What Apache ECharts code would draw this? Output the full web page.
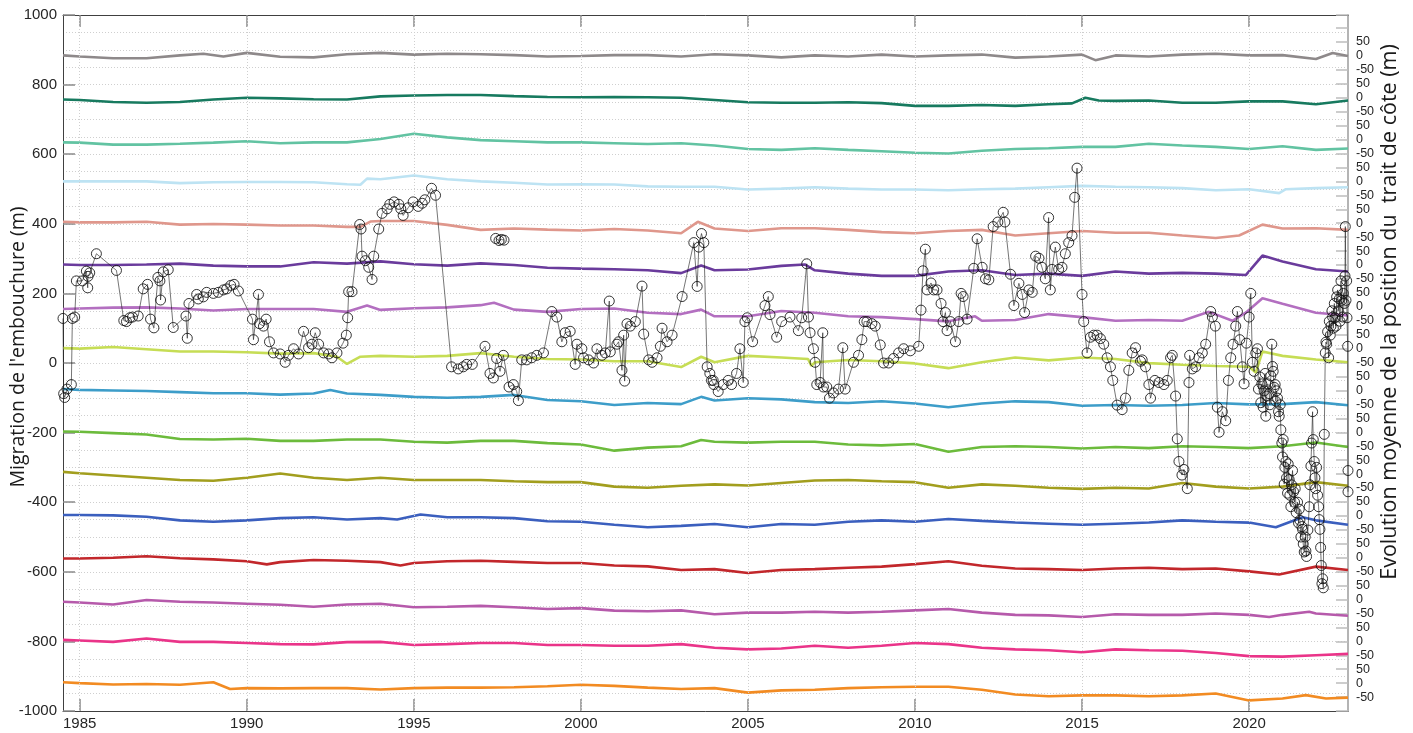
<!DOCTYPE html>
<html>
<head>
<meta charset="utf-8">
<script src="https://cdn.jsdelivr.net/npm/echarts@6/dist/echarts.min.js"></script>
<style>
  html, body { margin: 0; padding: 0; background: #fff; }
  #chart { width: 1413px; height: 733px; }
</style>
</head>
<body>
<div id="chart"></div>
<script>
// ---- x ticks (years) ----
const yearTicks = [1985, 1990, 1995, 2000, 2005, 2010, 2015, 2020];

// ---- shoreline evolution per profile, [year, metres], top to bottom ----
const p01 = [[1984.5,2],[1985,-2],[1986,-8],[1987,-8],[1988,2],[1988.7,8],[1989.3,-2],[1990,11],[1991,-3],[1992,-5],[1993,6],[1994,11],[1995,5],[1996,8],[1997,6],[1998,3],[1999,-2],[2000,0],[2001,3],[2002,3],[2003,-2],[2004,6],[2005,2],[2006,-5],[2007,2],[2008,-2],[2009,5],[2010,-2],[2011,2],[2012,5],[2013,-6],[2014,-2],[2015,5],[2015.4,-15],[2016,2],[2017,-2],[2018,5],[2019,8],[2020,2],[2021,3],[2022,-11],[2022.5,11],[2022.96,0]];
const p02 = [[1984.5,-6],[1985,-8],[1986,-15],[1987,-18],[1988,-15],[1989,-6],[1990,0],[1991,-2],[1992,-5],[1993,-6],[1994,5],[1995,8],[1996,10],[1997,10],[1998,6],[1999,3],[2000,2],[2001,3],[2002,2],[2003,0],[2004,-8],[2005,-16],[2006,-18],[2007,-18],[2008,-16],[2009,-19],[2010,-29],[2011,-29],[2012,-26],[2013,-29],[2014,-23],[2014.7,-20],[2015.1,0],[2015.5,-10],[2016,-11],[2017,-10],[2018,-18],[2019,-18],[2020,-13],[2021,-13],[2022,-23],[2022.96,-10]];
const p03 = [[1984.5,-10],[1985,-11],[1986,-18],[1987,-18],[1988,-15],[1989,-11],[1990,-6],[1991,-13],[1992,-10],[1993,-10],[1994,2],[1995,21],[1996,8],[1997,-2],[1998,-6],[1999,-10],[2000,-10],[2001,-13],[2002,-16],[2003,-13],[2004,-21],[2005,-34],[2006,-37],[2007,-31],[2008,-37],[2009,-42],[2010,-47],[2011,-50],[2012,-40],[2013,-34],[2014,-31],[2015,-26],[2016,-26],[2017,-15],[2018,-21],[2019,-26],[2020,-34],[2021,-24],[2022,-37],[2022.96,-32]];
const p04 = [[1984.5,0],[1985,0],[1986,0],[1987,0],[1988,-6],[1989,-3],[1990,-2],[1991,-2],[1992,-3],[1993,-10],[1993.4,-12],[1993.6,10],[1994,8],[1995,21],[1996,8],[1997,0],[1998,-5],[1999,-11],[2000,-10],[2001,-11],[2002,-18],[2003,-19],[2004,-19],[2005,-29],[2006,-26],[2007,-21],[2008,-26],[2009,-29],[2010,-29],[2011,-32],[2012,-28],[2013,-26],[2014,-21],[2015,-16],[2016,-19],[2017,-21],[2018,-24],[2019,-32],[2020,-28],[2020.9,-42],[2021.1,-28],[2022,-24],[2022.96,-21]];
const p05 = [[1984.5,5],[1985,3],[1986,3],[1987,5],[1988,-5],[1989,-3],[1990,-5],[1991,-8],[1992,-8],[1993,-13],[1993.4,-13],[1993.7,6],[1994,8],[1995,8],[1996,-6],[1997,-24],[1998,-19],[1999,-23],[2000,-26],[2001,-21],[2002,-26],[2003,-36],[2003.5,5],[2004,-19],[2005,-28],[2006,-18],[2007,-18],[2008,-24],[2009,-32],[2010,-36],[2011,-28],[2012,-24],[2013,-44],[2014,-36],[2015,-28],[2016,-34],[2017,-34],[2018,-44],[2019,-53],[2019.7,-44],[2020.4,-5],[2021,-19],[2022,-18],[2022.96,-24]];
const p06 = [[1984.5,2],[1985,0],[1986,0],[1987,2],[1988,5],[1989,-2],[1990,-5],[1991,-5],[1992,10],[1993,5],[1994,13],[1995,3],[1996,-2],[1997,6],[1998,0],[1999,-10],[2000,-13],[2001,-15],[2002,-19],[2003,-29],[2003.6,-2],[2004,-19],[2005,-16],[2006,-3],[2006.7,2],[2007,-19],[2008,-31],[2009,-39],[2010,-39],[2011,-23],[2012,-19],[2013,-36],[2014,-31],[2015,-39],[2016,-23],[2017,-31],[2018,-28],[2019,-31],[2019.9,-36],[2020.4,34],[2021,13],[2022,-15],[2022.96,-23]];
const p07 = [[1984.5,-8],[1985,-6],[1986,-3],[1987,-2],[1988,-6],[1989,-13],[1990,-8],[1991,-8],[1992,-8],[1993,-18],[1993.6,5],[1994,-11],[1995,-5],[1996,-2],[1997,6],[1997.4,15],[1998,-10],[1999,-18],[2000,-8],[2001,-6],[2002,-21],[2003,-26],[2003.6,-10],[2004,-34],[2005,-34],[2006,-15],[2007,-21],[2008,-34],[2009,-37],[2010,-44],[2011,-52],[2011.8,-34],[2012,-50],[2013,-47],[2014,-26],[2015,-37],[2016,-50],[2017,-47],[2018,-50],[2018.8,-18],[2019.5,-50],[2019.9,-21],[2020.4,31],[2021,11],[2022,-21],[2022.96,-31]];
const p08 = [[1984.5,2],[1985,0],[1986,6],[1987,-2],[1988,-10],[1989,-10],[1990,-13],[1991,-18],[1992,-16],[1992.7,-29],[1993,-55],[1993.4,-29],[1994,-26],[1995,-29],[1996,-26],[1997,-16],[1998,-29],[1999,-37],[2000,-39],[2001,-45],[2002,-45],[2003,-66],[2003.6,-29],[2004,-49],[2005,-26],[2006,-32],[2006.8,-37],[2006.9,-62],[2007,-49],[2008,-41],[2009,-45],[2010,-53],[2011,-70],[2012,-49],[2013,-32],[2014,-42],[2015,-32],[2016,-37],[2017,-52],[2018,-58],[2019,-62],[2020,-65],[2020.2,-86],[2020.4,-10],[2021,-26],[2022,-39],[2022.96,-49]];
const p09 = [[1984.5,5],[1985,2],[1986,0],[1987,-2],[1988,-6],[1989,-10],[1990,-10],[1991,-15],[1992,-11],[1992.5,2],[1993,-11],[1994,-16],[1995,-23],[1996,-26],[1997,-23],[1998,-16],[1999,-34],[2000,-39],[2001,-52],[2002,-45],[2003,-49],[2003.6,-23],[2004,-36],[2005,-28],[2006,-32],[2007,-42],[2008,-45],[2009,-39],[2010,-47],[2011,-60],[2012,-47],[2013,-39],[2014,-42],[2015,-55],[2016,-52],[2017,-55],[2018,-52],[2019,-45],[2020,-50],[2021,-49],[2022,-42],[2022.96,-53]];
const p10 = [[1984.5,3],[1985,2],[1986,-3],[1987,-8],[1988,-24],[1989,-26],[1990,-23],[1991,-31],[1992,-31],[1993,-26],[1994,-26],[1995,-34],[1996,-37],[1997,-31],[1998,-31],[1999,-39],[2000,-44],[2001,-66],[2002,-55],[2003,-50],[2003.6,-28],[2004,-34],[2005,-37],[2006,-34],[2007,-34],[2008,-44],[2009,-47],[2010,-42],[2011,-70],[2012,-53],[2013,-50],[2014,-53],[2015,-58],[2016,-53],[2017,-57],[2018,-50],[2019,-53],[2020,-57],[2021,-50],[2022,-37],[2022.96,-53]];
const p11 = [[1984.5,8],[1985,3],[1986,-5],[1987,-13],[1988,-21],[1989,-24],[1990,-13],[1991,2],[1992,-13],[1993,-21],[1994,-13],[1995,-21],[1996,-21],[1997,-21],[1998,-26],[1999,-29],[2000,-29],[2001,-45],[2002,-49],[2003,-42],[2004,-37],[2005,-41],[2006,-32],[2007,-23],[2008,-21],[2009,-26],[2010,-29],[2011,-49],[2012,-37],[2013,-42],[2014,-49],[2015,-53],[2016,-49],[2017,-52],[2018,-32],[2019,-45],[2020,-52],[2021,-45],[2022,-29],[2022.96,-42]];
const p12 = [[1984.5,3],[1985,3],[1986,2],[1987,-3],[1988,-16],[1989,-21],[1990,-16],[1991,-8],[1992,-5],[1993,-13],[1994,-8],[1994.5,-13],[1995.2,5],[1996,-5],[1997,-5],[1998,-8],[1999,-19],[2000,-21],[2001,-32],[2002,-41],[2003,-36],[2004,-29],[2005,-41],[2006,-29],[2007,-32],[2008,-21],[2009,-16],[2010,-21],[2011,-11],[2012,-18],[2013,-24],[2014,-28],[2015,-32],[2016,-28],[2017,-24],[2018,-16],[2019,-21],[2020,-24],[2020.8,-41],[2021.6,-5],[2022,-16],[2022.96,-32]];
const p13 = [[1984.5,-3],[1985,-3],[1986,0],[1987,5],[1988,-2],[1989,-6],[1990,-13],[1990.6,-24],[1991,-16],[1992,-8],[1993,-11],[1994,-16],[1994.6,-28],[1995,-19],[1996,-13],[1997,-11],[1998,-15],[1999,-19],[2000,-19],[2001,-28],[2002,-31],[2003,-44],[2004,-41],[2005,-55],[2006,-44],[2007,-41],[2008,-36],[2009,-32],[2010,-23],[2011,-13],[2012,-29],[2013,-39],[2014,-41],[2015,-44],[2016,-39],[2017,-36],[2018,-41],[2019,-39],[2020,-49],[2020.9,-60],[2022,-32],[2022.96,-44]];
const p14 = [[1984.5,-8],[1985,-11],[1986,-18],[1987,-2],[1988,-8],[1989,-11],[1990,-15],[1991,-19],[1992,-26],[1993,-18],[1994,-15],[1995,-28],[1996,-26],[1997,-23],[1998,-28],[1999,-34],[2000,-31],[2001,-40],[2002,-42],[2003,-39],[2004,-53],[2005,-47],[2006,-47],[2007,-44],[2008,-47],[2009,-44],[2010,-39],[2011,-34],[2012,-47],[2013,-55],[2014,-57],[2015,-63],[2016,-53],[2017,-55],[2018,-55],[2019,-50],[2020,-55],[2020.6,-63],[2021,-55],[2021.8,-44],[2022,-50],[2022.96,-58]];
const p15 = [[1984.5,5],[1985,3],[1986,-2],[1987,10],[1988,-2],[1989,-2],[1990,-6],[1991,-10],[1992,-11],[1993,-3],[1994,-2],[1995,-13],[1996,-10],[1997,-6],[1998,-6],[1999,-13],[2000,-13],[2001,-16],[2002,-16],[2003,-10],[2004,-23],[2005,-29],[2006,-26],[2007,-16],[2008,-23],[2009,-16],[2010,-6],[2011,-10],[2012,-23],[2013,-29],[2014,-32],[2015,-39],[2016,-29],[2017,-32],[2018,-34],[2019,-42],[2020,-53],[2021,-55],[2022,-50],[2022.96,-45]];
const p16 = [[1984.5,3],[1985,0],[1986,-5],[1987,-3],[1988,-6],[1989,3],[1989.5,-21],[1990,-18],[1991,-19],[1992,-18],[1993,-18],[1994,-23],[1995,-18],[1996,-16],[1997,-16],[1998,-15],[1999,-11],[2000,-6],[2001,-10],[2002,-16],[2003,-21],[2004,-18],[2005,-34],[2006,-26],[2007,-24],[2008,-18],[2009,-15],[2010,-13],[2011,-13],[2012,-24],[2013,-41],[2014,-47],[2015,-44],[2016,-44],[2017,-47],[2018,-44],[2019,-37],[2020,-62],[2021,-55],[2021.7,-43],[2022.3,-55],[2022.96,-52]];

const profiles = [p01, p02, p03, p04, p05, p06, p07, p08, p09, p10, p11, p12, p13, p14, p15, p16];
const profileColors = ['#8e898a', '#177a5f', '#62c3a2', '#bde3f3', '#df978c', '#6a3b9c', '#b36fc0', '#c6dd55',
                       '#3d9dc9', '#6cbb3c', '#a29e1e', '#3b5fbe', '#c2272b', '#b65aab', '#ea3489', '#f28b22'];
const profileSpacing = 150;   // metres between stacked baselines on the right axis

// ---- river mouth migration, [year, metres] ----
const mouthMigration = [
  [1984.5,128],[1984.52,-88],[1984.55,-99],[1984.62,-75],[1984.75,-62],[1984.78,128],[1984.85,132],
  [1984.9,236],[1985.08,236],[1985.2,264],[1985.24,216],[1985.25,249],[1985.3,259],[1985.5,314],[1986.1,266],
  [1986.32,122],[1986.4,119],[1986.5,130],[1986.58,132],[1986.75,135],[1986.9,213],[1987.03,226],[1987.12,126],
  [1987.22,101],[1987.34,246],[1987.4,236],[1987.42,181],[1987.5,262],[1987.65,268],[1987.8,102],[1988.18,135],
  [1988.22,71],[1988.27,171],[1988.5,197],[1988.55,184],[1988.7,190],[1988.8,203],[1989,200],[1989.15,203],
  [1989.3,210],[1989.4,213],[1989.52,223],[1989.62,226],[1989.75,207],[1990.17,126],[1990.2,67],[1990.35,197],
  [1990.38,113],[1990.5,106],[1990.58,126],[1990.68,61],[1990.8,29],[1991,26],[1991.15,2],[1991.25,22],
  [1991.4,41],[1991.55,26],[1991.7,91],[1991.85,44],[1991.95,54],[1992.05,87],[1992.15,54],[1992.3,29],
  [1992.45,26],[1992.55,15],[1992.7,29],[1992.88,57],[1992.98,80],[1993.02,130],[1993.05,205],[1993.15,205],
  [1993.38,398],[1993.42,385],[1993.45,307],[1993.55,294],[1993.65,275],[1993.75,240],[1993.8,307],[1993.95,385],
  [1994.05,430],[1994.2,443],[1994.28,456],[1994.41,463],[1994.55,456],[1994.61,443],[1994.68,424],[1994.83,446],
  [1994.98,463],[1995.13,450],[1995.25,459],[1995.33,469],[1995.53,502],[1995.65,482],
  [1996.13,-11],[1996.33,-17],[1996.48,-11],[1996.58,-4],[1996.75,-4],[1997.13,48],[1997.28,-30],[1997.38,-43],
  [1997.48,13],[1997.58,-24],[1997.68,22],[1997.85,-69],[1997.98,-62],[1998.08,-82],[1998.13,-108],[1998.23,9],
  [1998.38,9],[1998.53,15],[1998.68,22],[1998.88,29],[1999.13,148],[1999.28,132],[1999.43,61],[1999.53,87],
  [1999.68,91],[1999.83,-4],[1999.88,54],[2000.03,41],[2000.08,15],[2000.23,9],[2000.38,0],[2000.48,41],
  [2000.63,22],[2000.73,29],[2000.85,178],[2000.88,32],[2001.08,54],[2001.13,61],[2001.23,-21],[2001.28,80],
  [2001.31,-52],[2001.38,113],[2001.48,106],[2001.63,119],[2001.83,221],[2001.88,83],[2002.03,9],[2002.13,2],
  [2002.28,15],[2002.38,48],[2002.43,100],[2002.58,61],[2002.73,80],[2003.03,191],[2003.38,346],[2003.48,220],
  [2003.53,333],[2003.61,372],[2003.68,346],[2003.78,-11],[2003.86,-30],[2003.91,-50],[2003.96,-50],[2003.98,-62],
  [2004.11,-82],[2004.26,-62],[2004.41,-50],[2004.51,-62],[2004.66,-30],[2004.76,41],[2004.86,-56],[2004.91,119],
  [2004.98,130],[2005.14,61],[2005.51,165],[2005.61,191],[2005.66,139],[2005.86,74],[2006.01,119],[2006.26,132],
  [2006.51,93],[2006.61,130],[2006.76,285],[2006.81,132],[2006.86,87],[2006.96,41],[2007.01,2],[2007.06,-62],
  [2007.16,-56],[2007.24,87],[2007.26,-69],[2007.36,-69],[2007.44,-101],[2007.56,-86],[2007.71,-75],[2007.84,44],
  [2007.91,-75],[2008.16,2],[2008.31,22],[2008.41,67],[2008.48,119],[2008.56,119],[2008.71,113],[2008.81,106],
  [2008.96,52],[2009.06,0],[2009.21,0],[2009.36,13],[2009.51,29],[2009.66,41],[2009.86,35],[2010.11,48],
  [2010.18,152],[2010.24,265],[2010.31,327],[2010.36,210],[2010.48,230],[2010.56,210],[2010.66,210],[2010.78,171],
  [2010.84,119],[2010.91,145],[2010.96,93],[2011.06,119],[2011.21,61],[2011.31,119],[2011.38,200],[2011.44,191],
  [2011.56,126],[2011.76,272],[2011.86,357],[2012.01,275],[2012.11,242],[2012.21,239],[2012.34,392],[2012.48,405],
  [2012.64,433],[2012.69,405],[2012.86,255],[2012.96,165],[2013.11,229],[2013.21,197],[2013.28,145],[2013.41,210],
  [2013.51,203],[2013.61,307],[2013.71,301],[2013.8,275],[2013.9,242],[2014.0,418],[2014.05,210],[2014.1,269],
  [2014.2,333],[2014.3,269],[2014.4,275],[2014.5,314],[2014.6,346],[2014.7,366],[2014.78,476],[2014.85,560],
  [2015.0,197],[2015.05,119],[2015.15,29],[2015.25,74],[2015.35,80],[2015.45,80],[2015.55,70],[2015.65,54],
  [2015.75,15],[2015.85,-11],[2015.92,-50],[2016.05,-121],[2016.2,-134],[2016.3,-101],[2016.4,-21],[2016.5,29],
  [2016.6,44],[2016.75,5],[2016.8,9],[2016.9,-11],[2017.0,-62],[2017.05,-101],[2017.18,-50],[2017.3,-56],
  [2017.45,-62],[2017.55,-50],[2017.65,15],[2017.7,22],[2017.8,-95],[2017.85,-218],[2017.9,-283],[2017.99,-322],
  [2018.05,-306],[2018.15,-361],[2018.2,-56],[2018.22,22],[2018.3,-17],[2018.4,-11],[2018.5,15],[2018.6,29],
  [2018.7,54],[2018.85,148],[2018.9,132],[2018.99,106],[2019.05,-127],[2019.1,-199],[2019.2,-140],[2019.3,-166],
  [2019.38,-50],[2019.45,15],[2019.52,54],[2019.6,106],[2019.65,148],[2019.72,67],[2019.8,-11],[2019.85,-60],
  [2019.92,57],[2020.0,132],[2020.05,200],[2020.1,2],[2020.15,-24],[2020.2,29],[2020.25,41],[2020.28,-75],
  [2020.32,-40],[2020.35,-114],[2020.38,-60],[2020.42,-127],[2020.45,-80],[2020.48,-30],[2020.5,-153],[2020.53,-95],
  [2020.56,-60],[2020.6,-88],[2020.62,-120],[2020.65,-37],[2020.68,54],[2020.7,-10],[2020.72,-24],[2020.75,-70],
  [2020.78,-62],[2020.8,-110],[2020.82,-80],[2020.85,-101],[2020.88,-140],[2020.9,-153],[2020.93,-120],[2020.95,-192],
  [2020.98,-230],[2021.0,-270],[2021.02,-220],[2021.05,-348],[2021.07,-300],[2021.1,-283],[2021.12,-330],[2021.15,-374],
  [2021.17,-290],[2021.2,-335],[2021.22,-380],[2021.25,-413],[2021.27,-350],[2021.3,-309],[2021.33,-370],[2021.36,-400],
  [2021.38,-361],[2021.41,-430],[2021.45,-400],[2021.48,-460],[2021.5,-420],[2021.52,-452],[2021.55,-500],[2021.58,-470],
  [2021.6,-478],[2021.62,-520],[2021.65,-543],[2021.68,-500],[2021.7,-540],[2021.72,-556],[2021.76,-480],[2021.8,-413],
  [2021.82,-350],[2021.85,-296],[2021.87,-230],[2021.9,-140],[2021.92,-220],[2021.95,-283],[2021.97,-330],[2021.99,-361],
  [2022.02,-300],[2022.05,-380],[2022.08,-413],[2022.1,-450],[2022.12,-478],[2022.14,-530],[2022.16,-582],[2022.18,-634],
  [2022.2,-620],[2022.22,-646],[2022.25,-205],[2022.28,29],[2022.3,60],[2022.32,54],[2022.35,90],[2022.38,15],
  [2022.4,120],[2022.43,80],[2022.45,106],[2022.48,150],[2022.5,132],[2022.52,100],[2022.55,171],[2022.57,130],
  [2022.6,106],[2022.62,190],[2022.65,210],[2022.67,150],[2022.7,184],[2022.72,120],[2022.75,236],[2022.77,180],
  [2022.8,132],[2022.82,200],[2022.85,171],[2022.87,250],[2022.88,392],[2022.9,180],[2022.92,236],[2022.93,130],
  [2022.95,48],[2022.96,-309],[2022.96,-370]
];
// short survey not joined to the main record
const mouthIsolated = [[1997.45,358],[1997.55,352],[1997.62,355],[1997.7,353]];

const chart = echarts.init(document.getElementById('chart'), null, { renderer: 'canvas' });

const tickFont = { fontFamily: '"Liberation Sans", Arial, sans-serif', color: '#262626' };
const dotted = { color: '#cfcfcf', type: [1, 2], width: 1 };
const plain = v => String(v);

const profileSeries = profiles.map((arr, k) => {
  const base = (profiles.length - 1 - k) * profileSpacing;
  return {
    type: 'line',
    yAxisIndex: 1,
    data: arr.map(([t, v]) => [t, base + v]),
    showSymbol: false,
    lineStyle: { color: profileColors[k], width: 2.6 },
    itemStyle: { color: profileColors[k] },
    z: 3,
    silent: true
  };
});

const mouthStyle = {
  type: 'line',
  yAxisIndex: 0,
  symbol: 'circle',
  symbolSize: 10,
  showAllSymbol: true,
  itemStyle: { color: 'rgba(0,0,0,0)', borderColor: '#111', borderWidth: 0.85 },
  lineStyle: { color: '#1a1a1a', width: 0.6 },
  z: 5,
  silent: true
};

// dotted vertical grid at each labelled year
const yearGrid = {
  type: 'line',
  data: [],
  silent: true,
  z: 1,
  markLine: {
    silent: true,
    symbol: 'none',
    label: { show: false },
    lineStyle: dotted,
    data: yearTicks.map(y => ({ xAxis: y }))
  }
};

chart.setOption({
  animation: false,
  backgroundColor: '#fff',
  grid: { left: 63, right: 65, top: 15, bottom: 22, containLabel: false },
  xAxis: [
    {
      type: 'value', min: 1984.5, max: 2022.96, position: 'bottom',
      axisLine: { show: true, onZero: false, lineStyle: { color: '#404040', width: 1 } },
      axisTick: { show: true, inside: true, length: 12, customValues: yearTicks, lineStyle: { color: '#8a8a8a', width: 1.5 } },
      axisLabel: { customValues: yearTicks, fontSize: 15, margin: 5, formatter: plain, ...tickFont },
      splitLine: { show: false }
    },
    {
      type: 'value', min: 1984.5, max: 2022.96, position: 'top',
      axisLine: { show: true, onZero: false, lineStyle: { color: '#404040', width: 1 } },
      axisTick: { show: true, inside: true, length: 12, customValues: yearTicks, lineStyle: { color: '#8a8a8a', width: 1.5 } },
      axisLabel: { show: false },
      splitLine: { show: false }
    }
  ],
  yAxis: [
    {
      type: 'value', min: -1000, max: 1000, interval: 200, position: 'left',
      axisLine: { show: true, onZero: false, lineStyle: { color: '#404040', width: 1 } },
      axisTick: { show: true, inside: true, length: 12, lineStyle: { color: '#8a8a8a', width: 1.5 } },
      axisLabel: { fontSize: 15, margin: 6, formatter: plain, ...tickFont },
      splitLine: { show: true, lineStyle: dotted },
      minorTick: { show: false, splitNumber: 4 },
      minorSplitLine: { show: true, lineStyle: dotted }
    },
    {
      type: 'value', min: -100, max: 2397, interval: 50, position: 'right',
      axisLine: { show: true, onZero: false, lineStyle: { color: '#b4b4b4', width: 2 } },
      axisTick: { show: true, inside: true, length: 12, lineStyle: { color: '#bdbdbd', width: 1.5 } },
      axisLabel: {
        fontSize: 12.5, margin: 8, ...tickFont,
        formatter: v => {
          if (v < -50 || v > (profiles.length - 1) * profileSpacing + 50) return '';
          const rel = v - profileSpacing * Math.round(v / profileSpacing);
          return String(Math.round(rel) || 0);
        }
      },
      splitLine: { show: false }
    }
  ],
  graphic: [
    {
      type: 'text', x: 18, y: 347, rotation: Math.PI / 2,
      style: { text: "Migration de l'embouchure (m)", font: '19.5px "Open Sans", sans-serif', fill: '#1a1a1a', align: 'center', verticalAlign: 'middle' }
    },
    {
      type: 'text', x: 1390, y: 312, rotation: Math.PI / 2,
      style: { text: 'Evolution moyenne de la position du  trait de côte (m)', font: '21.5px "Open Sans", sans-serif', fill: '#1a1a1a', align: 'center', verticalAlign: 'middle' }
    }
  ],
  series: [
    yearGrid,
    ...profileSeries,
    { ...mouthStyle, data: mouthMigration },
    { ...mouthStyle, data: mouthIsolated }
  ]
});
</script>
</body>
</html>
